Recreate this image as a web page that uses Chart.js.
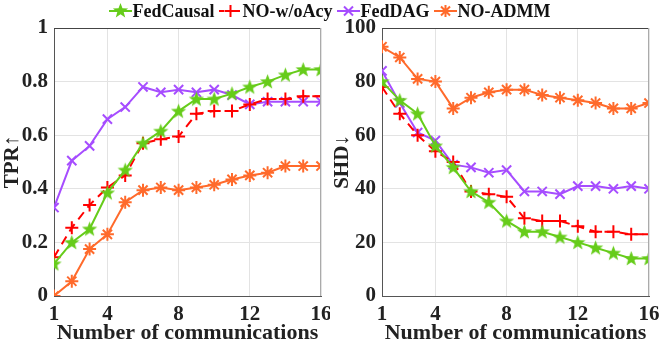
<!DOCTYPE html>
<html lang="en">
<head>
  <meta charset="UTF-8">
  <title>FedCausal vs baselines</title>
  <script src="https://cdn.jsdelivr.net/npm/chart.js"></script>
  <style>
    body {
      margin: 0;
      width: 659px;
      height: 347px;
      background: #fff;
      font-family: "Liberation Serif", "Times New Roman", serif;
      overflow: hidden;
      position: relative;
    }
    #legend {
      position: absolute;
      top: 0;
      left: 0;
      width: 659px;
      height: 22px;
      display: flex;
      justify-content: center;
      align-items: center;
      font-weight: bold;
      font-size: 18px;
      color: #111;
      z-index: 2;
    }
    .item { display: flex; align-items: center; margin: 0 2px; }
    .item canvas { margin-right: 1px; }
    .box { position: absolute; top: 0; height: 347px; }
    #left { left: 0; width: 330px; }
    #right { left: 330px; width: 329px; }
  </style>
</head>
<body>
  <div id="legend"></div>
  <div class="box" id="left"><canvas id="tprChart"></canvas></div>
  <div class="box" id="right"><canvas id="shdChart"></canvas></div>

  <script>
    const rounds = [1, 2, 3, 4, 5, 6, 7, 8, 9, 10, 11, 12, 13, 14, 15, 16];
    const xTicks = [1, 4, 8, 12, 16];

    // TPR (left panel)
    const tprFedCausal = [0.12, 0.20, 0.25, 0.385, 0.47, 0.57, 0.615, 0.69, 0.735, 0.735, 0.755, 0.78, 0.80, 0.825, 0.845, 0.845];
    const tprNoAcy     = [0.145, 0.255, 0.34, 0.405, 0.45, 0.57, 0.585, 0.595, 0.68, 0.69, 0.69, 0.715, 0.735, 0.735, 0.745, 0.745];
    const tprFedDAG    = [0.33, 0.505, 0.56, 0.66, 0.705, 0.78, 0.76, 0.77, 0.76, 0.77, 0.75, 0.715, 0.725, 0.725, 0.725, 0.725];
    const tprNoADMM    = [0, 0.055, 0.175, 0.23, 0.35, 0.395, 0.405, 0.395, 0.405, 0.415, 0.435, 0.45, 0.46, 0.485, 0.485, 0.485];

    // SHD (right panel)
    const shdFedCausal = [80, 73, 68, 56, 48, 39, 35, 28, 24, 24, 22, 20, 18, 16, 14, 14];
    const shdNoAcy     = [78, 68, 60, 54, 50, 39, 38, 37, 29, 28, 28, 26, 24, 24, 23, 23];
    const shdFedDAG    = [84, 72, 61, 58, 49, 48, 46, 47, 39, 39, 38, 41, 41, 40, 41, 40];
    const shdNoADMM    = [93, 89, 81, 80, 70, 74, 76, 77, 77, 75, 74, 73, 72, 70, 70, 72];

    const GREEN = '#66cc1a';
    const RED = '#ff0000';
    const PURPLE = '#a64dff';
    const ORANGE = '#ff6a2b';
    const FONT = '"Liberation Serif", "Times New Roman", serif';

    // filled 5 point star for FedCausal
    function starImg(size, color) {
      const c = document.createElement('canvas');
      c.width = size; c.height = size;
      const g = c.getContext('2d');
      const cx = size / 2, cy = size / 2 + 0.5, R = size / 2 - 0.5, r = R * 0.42;
      g.beginPath();
      for (let i = 0; i < 10; i++) {
        const a = -Math.PI / 2 + i * Math.PI / 5;
        const rr = i % 2 ? r : R;
        g.lineTo(cx + rr * Math.cos(a), cy + rr * Math.sin(a));
      }
      g.closePath();
      g.fillStyle = color;
      g.fill();
      return c;
    }
    const greenStar = starImg(17, GREEN);

    const series = [
      { label: 'FedCausal', color: GREEN, style: greenStar, dash: [] },
      { label: 'NO-w/oAcy', color: RED, style: 'cross', dash: [9, 6] },
      { label: 'FedDAG', color: PURPLE, style: 'crossRot', dash: [] },
      { label: 'NO-ADMM', color: ORANGE, style: 'star', dash: [] }
    ];

    // legend
    const legend = document.getElementById('legend');
    series.forEach(s => {
      const item = document.createElement('div');
      item.className = 'item';
      const c = document.createElement('canvas');
      c.width = 23; c.height = 16;
      const g = c.getContext('2d');
      g.strokeStyle = s.color; g.lineWidth = 2;
      g.setLineDash(s.dash.length ? [5, 3] : []);
      g.beginPath(); g.moveTo(0, 8); g.lineTo(23, 8); g.stroke();
      g.setLineDash([]);
      if (typeof s.style !== 'string') {
        g.drawImage(s.style, 3, -1);
      } else {
        g.beginPath();
        if (s.style === 'cross' || s.style === 'star') {
          g.moveTo(11.5, 2); g.lineTo(11.5, 14); g.moveTo(5.5, 8); g.lineTo(17.5, 8);
        }
        if (s.style === 'crossRot' || s.style === 'star') {
          g.moveTo(7, 3.5); g.lineTo(16, 12.5); g.moveTo(16, 3.5); g.lineTo(7, 12.5);
        }
        g.stroke();
      }
      item.appendChild(c);
      const t = document.createElement('span');
      t.textContent = s.label;
      item.appendChild(t);
      legend.appendChild(item);
    });

    const boxPlugin = {
      id: 'box',
      afterDraw(chart) {
        const a = chart.chartArea, ctx = chart.ctx;
        ctx.save();
        ctx.lineWidth = 1;
        ctx.strokeStyle = '#444';
        ctx.beginPath();
        ctx.moveTo(a.left, a.top + 0.5); ctx.lineTo(a.right, a.top + 0.5);
        ctx.stroke();
        ctx.strokeStyle = '#aaa';
        ctx.beginPath();
        ctx.moveTo(a.right - 0.5, a.top); ctx.lineTo(a.right - 0.5, a.bottom);
        ctx.stroke();
        ctx.restore();
      }
    };

    function makeChart(id, dataSets, yTitle, yMax, yStep, yWidth, padRight) {
      new Chart(document.getElementById(id), {
        type: 'line',
        data: {
          datasets: series.map((s, i) => ({
            label: s.label,
            data: rounds.map((r, j) => ({ x: r, y: dataSets[i][j] })),
            borderColor: s.color,
            backgroundColor: s.color,
            borderWidth: 2,
            borderDash: s.dash,
            pointStyle: s.style,
            pointRadius: 6.5,
            pointBorderWidth: 2,
            pointHoverRadius: 6.5,
            tension: 0
          }))
        },
        options: {
          responsive: true,
          maintainAspectRatio: false,
          animation: false,
          layout: { padding: { top: 28, right: padRight, left: 0, bottom: 0 } },
          plugins: { legend: { display: false }, tooltip: { enabled: false } },
          scales: {
            x: {
              type: 'linear',
              min: 1,
              max: 16,
              afterBuildTicks: s => { s.ticks = xTicks.map(v => ({ value: v })); },
              afterFit: s => { s.height = 51; s.paddingLeft = 0; s.paddingRight = 0; },
              grid: { color: '#e3e3e3', drawTicks: false },
              border: { color: '#555' },
              ticks: { color: '#222', padding: 6, maxRotation: 0, font: { family: FONT, size: 21, weight: 'bold' } },
              title: { display: true, text: 'Number of communications', color: '#222', padding: { top: 3, bottom: 0 }, font: { family: FONT, size: 22, weight: 'bold' } }
            },
            y: {
              min: 0,
              max: yMax,
              afterFit: s => { s.width = yWidth; s.paddingTop = 0; s.paddingBottom = 0; },
              grid: { color: '#e3e3e3', drawTicks: false },
              border: { color: '#555' },
              ticks: { stepSize: yStep, color: '#222', padding: 6, callback: v => String(+v.toFixed(2)), font: { family: FONT, size: 21, weight: 'bold' } },
              title: { display: true, text: yTitle, color: '#222', padding: { top: 0, bottom: 0 }, font: { family: FONT, size: 21, weight: 'bold' } }
            }
          }
        },
        plugins: [boxPlugin]
      });
    }

    makeChart('tprChart', [tprFedCausal, tprNoAcy, tprFedDAG, tprNoADMM], 'TPR↑', 1, 0.2, 54, 9);
    makeChart('shdChart', [shdFedCausal, shdNoAcy, shdFedDAG, shdNoADMM], 'SHD↓', 100, 20, 52, 10);
  </script>
</body>
</html>
